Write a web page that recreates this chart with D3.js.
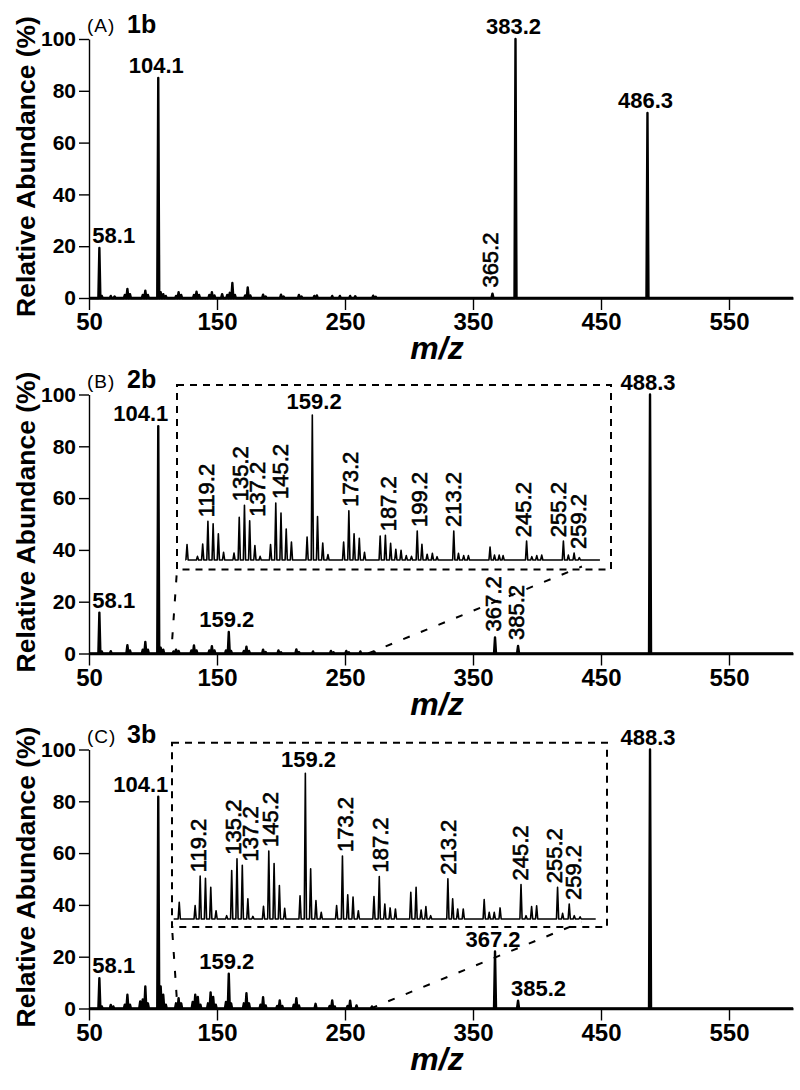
<!DOCTYPE html>
<html>
<head>
<meta charset="utf-8">
<script src="https://cdn.jsdelivr.net/npm/d3@7"></script>
<style>
body { margin: 0; background: #fff; }
text { font-family: "Liberation Sans", Arial, Helvetica, sans-serif; fill: #000; }
</style>
</head>
<body>
<script>
//axis ticks and panel names
var xTicks = [50, 150, 250, 350, 450, 550];
var yTicks = [0, 20, 40, 60, 80, 100];
var panelTags = ["(A)", "(B)", "(C)"];
var compounds = ["1b", "2b", "3b"];

//panel A spectrum (m/z, relative abundance %)
var mzA = [58.1, 60, 67, 70, 78, 80, 82, 92, 94, 96, 104.1, 106, 108, 110, 118, 120, 122, 132, 134, 136,
    144, 146, 148, 154, 158, 160, 162, 164, 172, 174, 176, 186, 188, 200, 202, 214, 216, 226, 228, 240,
    246, 254, 258, 272, 274, 365.2, 383.2, 486.3];
var abA = [19.3, 0.8, 0.8, 0.6, 1.2, 3.5, 1.5, 1.2, 2.8, 1.2, 85, 2.2, 1.5, 0.8, 0.8, 2.2, 1.2, 1.2, 2.4, 1.2,
    1.2, 2.2, 1.0, 1.5, 1.2, 2.0, 5.8, 1.2, 1.0, 4.1, 1.0, 1.3, 0.6, 1.3, 0.6, 1.2, 0.6, 0.8, 1.0, 0.8,
    0.8, 0.8, 0.7, 0.9, 0.5, 1.7, 100, 71.4];
var labelTextA = ["58.1", "104.1", "365.2", "383.2", "486.3"];
var labelMzA = [58.1, 104.1, 365.2, 383.2, 486.3];
var labelModeA = ["start", "middle", "rot", "middle", "middle"];

//panel B spectrum
var mzB = [58.1, 60, 67, 80, 82, 92, 94, 96, 104.1, 106, 108, 116, 118, 120, 130, 132, 134, 144, 146, 148,
    157, 159.2, 161, 171, 173, 175, 186, 188, 198, 200, 212, 214, 225, 239, 241, 251, 253, 262, 273,
    367.2, 385.2, 488.3];
var abB = [15.8, 0.8, 0.9, 3.2, 1.2, 1.5, 4.5, 1.5, 87.8, 2.2, 1.5, 0.8, 1.5, 1.0, 1.2, 3.1, 1.2, 1.2, 2.8, 1.2,
    1.2, 8.3, 1.0, 1.0, 2.6, 1.0, 1.5, 0.6, 1.2, 0.5, 1.6, 0.6, 0.8, 1.0, 0.5, 1.0, 0.5, 0.8, 0.6,
    6.2, 2.9, 100];
var labelTextB = ["58.1", "104.1", "159.2", "367.2", "385.2", "488.3"];
var labelMzB = [58.1, 104.1, 159.2, 367.2, 385.2, 488.3];
var labelModeB = ["start", "end", "middle", "rot", "rot", "middle"];

//panel C spectrum
var mzC = [58.1, 60, 67, 69, 78, 80, 82, 90, 92, 94, 96, 104.1, 106, 108, 110, 118, 120, 122, 131, 133,
    135, 137, 143, 145, 147, 149, 157, 159.2, 161, 171, 173, 175, 184, 186, 188, 197, 199, 201, 210, 212,
    214, 227, 238, 240, 242, 252, 254, 259, 271, 367.2, 385.2, 488.3];
var abC = [11.7, 0.8, 1.4, 0.8, 1.5, 5.3, 1.5, 2.7, 3.5, 8.5, 2.0, 81.8, 8.5, 5.3, 1.5, 2.0, 4.0, 2.0, 2.5, 5.3,
    4.5, 1.5, 2.0, 6.2, 4.5, 1.5, 2.5, 13.4, 2.0, 2.0, 5.9, 2.0, 1.5, 4.4, 1.2, 1.0, 3.1, 1.0, 1.5, 4.0,
    1.2, 1.8, 1.0, 3.1, 0.8, 1.0, 3.0, 1.2, 0.8, 22, 3, 100];
var labelTextC = ["58.1", "104.1", "159.2", "367.2", "385.2", "488.3"];
var labelMzC = [58.1, 104.1, 159.2, 367.2, 385.2, 488.3];
var labelModeC = ["start", "end", "middle", "middle", "start", "middle"];

//inset of panel B (m/z, abundance % of inset maximum)
var insetMzB = [111.2, 115.2, 117.2, 119.2, 121.2, 123.2, 125.2, 129.2, 131.2, 133.2, 135.2, 137.2, 139.2,
    143.2, 145.2, 147.2, 149.2, 151.2, 157.2, 159.2, 161.2, 163.2, 165.2, 171.2, 173.2, 175.2, 177.2, 179.2,
    185.2, 187.2, 189.2, 191.2, 193.2, 195.2, 197.2, 199.4, 201.2, 203.2, 205.2, 207.0, 213.4, 215.2, 217.2,
    219.0, 227.3, 229.0, 230.8, 232.3, 241.3, 243.3, 245.2, 247.1, 255.4, 257.3, 259.5, 261.5];
var insetAbB = [10.6, 2.5, 11, 26.7, 25, 18, 5.3, 4.8, 29.4, 37.7, 27, 10, 2.5,
    10.6, 39.3, 32.4, 21.4, 12.4, 15.9, 100, 30, 11.7, 3.7, 12.4, 34, 18, 15, 5.3,
    16.5, 17, 11.5, 7.3, 6.7, 3, 2.5, 20, 10.8, 4, 4.6, 2.3, 20, 4.6, 3,
    3, 9, 3.4, 3.4, 3, 13, 2.3, 3, 3.4, 13, 3.4, 4.8, 1.6];
var insetLabelTextB = ["119.2", "135.2", "137.2", "145.2", "159.2", "173.2", "187.2", "199.2", "213.2", "245.2", "255.2", "259.2"];
var insetLabelMzB = [118.4, 131.5, 137.9, 146.8, 159.9, 173.6, 188.2, 200.1, 213.2, 240.0, 253.5, 261.1];

//inset of panel C
var insetMzC = [111.6, 117.6, 119.5, 121.5, 123.5, 125.5, 129.5, 131.4, 133.4, 135.4, 137.5, 139.4,
    143.4, 145.4, 147.4, 149.4, 151.4, 157.2, 159.2, 161.2, 163.2, 165.2, 171.0, 173.2, 175.2, 177.2, 179.2,
    185.1, 187.1, 189.2, 191.2, 193.2, 199.0, 201.0, 202.9, 204.7, 206.5, 213.0, 214.8, 216.7, 218.8,
    226.7, 228.6, 230.5, 232.7, 240.6, 242.5, 244.6, 246.5, 254.4, 256.3, 258.8, 260.7, 262.9];
var insetAbC = [11.5, 9.2, 29.4, 28, 21.8, 5.7, 2.3, 33.3, 41.4, 36.8, 13.8, 1.8,
    8.7, 46.7, 38, 23, 7.4, 16, 100, 34.5, 12.6, 4.6, 9.2, 43.2, 16.6, 15, 5.7,
    15.4, 29.2, 10.3, 7.6, 6.9, 18.4, 21.8, 6.2, 8.5, 2.3, 27.6, 13.8, 6.9, 6.9,
    13.3, 4.6, 4.6, 7.6, 23.7, 2.3, 8.5, 9, 21.8, 3.9, 10.3, 2.3, 1.5];
var insetLabelTextC = ["119.2", "135.2", "137.2", "145.2", "159.2", "173.2", "187.2", "213.2", "245.2", "255.2", "259.2"];
var insetLabelMzC = [118.8, 132.0, 138.3, 145.9, 160.4, 174.2, 187.4, 213.2, 240.2, 253.1, 260.3];

//panel layout
var panels = [
    {tag: panelTags[0], name: compounds[0], mz: mzA, ab: abA,
        lt: labelTextA, lm: labelMzA, lmode: labelModeA, top: 39, inset: null},
    {tag: panelTags[1], name: compounds[1], mz: mzB, ab: abB,
        lt: labelTextB, lm: labelMzB, lmode: labelModeB, top: 394.5,
        inset: {mz: insetMzB, ab: insetAbB, lt: insetLabelTextB, lm: insetLabelMzB,
            box: [177, 611, -9.5, 175], base: 165.5, full: 20.5, range: [183.9, 601.5],
            span: [110.8, 269.4], links: [[115, 5.5], [268, 0]], linkEnd: 262.5, linkLift: 3}},
    {tag: panelTags[2], name: compounds[2], mz: mzC, ab: abC,
        lt: labelTextC, lm: labelMzC, lmode: labelModeC, top: 749.5,
        inset: {mz: insetMzC, ab: insetAbC, lt: insetLabelTextC, lm: insetLabelMzC,
            box: [172, 607, -6.8, 177.5], base: 169.5, full: 23.8, range: [175.0, 598.9],
            span: [109.5, 268.8], links: [[118.5, 4.5], [270, 0]], linkEnd: 263.5, linkLift: 5}}
];

var width = 800, height = 1090;
var svg = d3.select("body").append("svg")
    .attr("width", width)
    .attr("height", height);

var x = d3.scaleLinear().domain([50, 600]).range([89, 793]);

//build a stick profile as a polyline
function stickPoints(mzs, abs, xs, ys, hw, start, end){
    var pts = [[start, ys(0)]];
    mzs.forEach(function(m, i){
        var px = xs(m);
        pts.push([px - hw, ys(0)], [px, ys(abs[i])], [px + hw, ys(0)]);
    });
    pts.push([end, ys(0)]);
    return pts;
}

var line = d3.line();

panels.forEach(function(p){
    var y = d3.scaleLinear().domain([0, 100]).range([p.top + 259, p.top]);
    var g = svg.append("g");

    //x axis
    var xAxis = g.append("g")
        .attr("transform", "translate(0," + y(0) + ")")
        .call(d3.axisBottom(x).tickValues(xTicks).tickSize(12).tickSizeOuter(0).tickPadding(3));
    xAxis.select(".domain").attr("stroke-width", 2.6);
    xAxis.selectAll(".tick line").attr("stroke-width", 1.4);
    xAxis.selectAll("text").style("font-size", "24px").style("font-weight", "bold").attr("fill", "#000");

    //y axis
    var yAxis = g.append("g")
        .attr("transform", "translate(" + x(50) + ",0)")
        .call(d3.axisLeft(y).tickValues(yTicks).tickSize(10).tickSizeOuter(0).tickPadding(3));
    yAxis.select(".domain").attr("stroke-width", 1.4);
    yAxis.selectAll(".tick line").attr("stroke-width", 1.4);
    yAxis.selectAll("text").style("font-size", "21px").style("font-weight", "bold").attr("fill", "#000");

    //axis titles
    g.append("text")
        .attr("transform", "translate(35," + ((y(0) + y(100)) / 2 - 2) + ") rotate(-90)")
        .attr("text-anchor", "middle")
        .style("font-size", "26.5px").style("font-weight", "bold")
        .text("Relative Abundance (%)");
    g.append("text")
        .attr("x", 437).attr("y", y(0) + 61)
        .attr("text-anchor", "middle")
        .style("font-size", "32px").style("font-weight", "bold").style("font-style", "italic")
        .text("m/z");

    //panel tag and compound name
    g.append("text")
        .attr("x", 87).attr("y", p.top - 7)
        .style("font-size", "19px").style("letter-spacing", "1px")
        .text(p.tag);
    g.append("text")
        .attr("x", 127).attr("y", p.top - 6.5)
        .style("font-size", "25px").style("font-weight", "bold")
        .text(p.name);

    //spectrum
    g.append("path")
        .attr("d", line(stickPoints(p.mz, p.ab, x, y, 1.0, x(50), x(600))))
        .attr("fill", "none")
        .attr("stroke", "#000")
        .attr("stroke-width", 2.4)
        .attr("stroke-linejoin", "round");

    //peak labels
    p.lt.forEach(function(t, i){
        var m = p.lm[i];
        var v = p.ab[p.mz.indexOf(m)];
        var px = x(m), py = y(v);
        var mode = p.lmode[i];
        var txt = g.append("text").text(t).style("font-size", "22px");
        if (mode === "rot"){
            txt.attr("transform", "translate(" + (px - 2) + "," + (py - 6) + ") rotate(-90)")
                .attr("dy", "0.36em")
                .attr("stroke", "#000").attr("stroke-width", 0.6);
        } else {
            txt.style("font-weight", "bold").attr("y", py - 5);
            if (mode === "start"){
                txt.attr("x", px - 7);
            } else if (mode === "end"){
                txt.attr("x", px + 10).attr("text-anchor", "end");
            } else {
                txt.attr("x", px - 2).attr("text-anchor", "middle");
            }
        }
    });

    //zoomed inset
    var ins = p.inset;
    if (!ins) return;
    var ix = d3.scaleLinear().domain([110, 270]).range(ins.range);
    var iy = d3.scaleLinear().domain([0, 100]).range([p.top + ins.base, p.top + ins.full]);
    var bx0 = ins.box[0], bx1 = ins.box[1], by0 = p.top + ins.box[2], by1 = p.top + ins.box[3];

    g.append("rect")
        .attr("x", bx0).attr("y", by0)
        .attr("width", bx1 - bx0).attr("height", by1 - by0)
        .attr("fill", "none")
        .attr("stroke", "#000")
        .attr("stroke-width", 2)
        .attr("stroke-dasharray", "7,6");

    //connector lines from the main axis to the inset
    var links = [
        [[x(ins.links[0][0]), y(ins.links[0][1])], [bx0, by1]],
        [[x(ins.links[1][0]), y(ins.links[1][1])], [ix(ins.linkEnd), by1 - ins.linkLift]]
    ];
    g.selectAll(".link")
        .data(links)
        .enter()
        .append("path")
        .attr("class", "link")
        .attr("d", line)
        .attr("stroke", "#000")
        .attr("stroke-width", 2)
        .attr("stroke-dasharray", "7,12");

    g.append("path")
        .attr("d", line(stickPoints(ins.mz, ins.ab, ix, iy, 1.1, ix(ins.span[0]), ix(ins.span[1]))))
        .attr("fill", "none")
        .attr("stroke", "#000")
        .attr("stroke-width", 1.6)
        .attr("stroke-linejoin", "round");

    ins.lt.forEach(function(t, i){
        var m = ins.lm[i];
        var top = 0;
        ins.mz.forEach(function(q, j){ if (Math.abs(q - m) <= 3) top = Math.max(top, ins.ab[j]); });
        var px = ix(m), py = iy(top);
        var txt = g.append("text").text(t).style("font-size", "22px");
        if (t === "159.2"){
            txt.attr("x", px).attr("y", py - 6.5).attr("text-anchor", "middle").style("font-weight", "bold");
        } else {
            txt.attr("transform", "translate(" + px + "," + (py - 4) + ") rotate(-90)")
                .attr("dy", "0.36em")
                .attr("stroke", "#000").attr("stroke-width", 0.6);
        }
    });
});
</script>
</body>
</html>
